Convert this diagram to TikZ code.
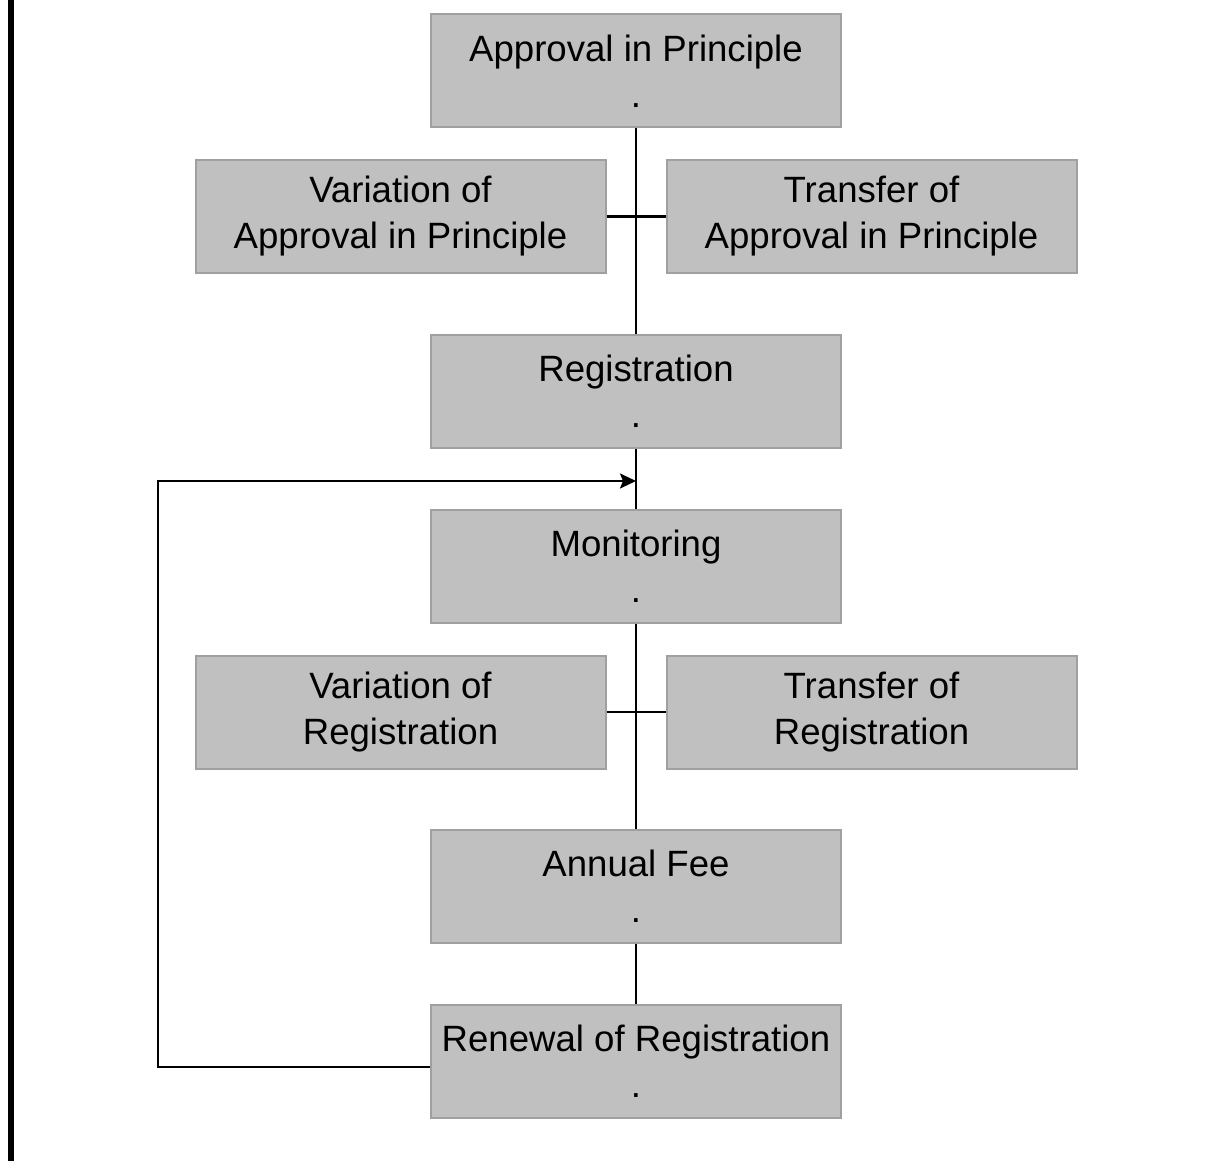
\documentclass[tikz,border=0pt]{standalone}
\usepackage{fontspec}
\setmainfont{Liberation Sans}
\usetikzlibrary{arrows.meta,calc}
\definecolor{boxfill}{HTML}{C0C0C0}
\definecolor{boxline}{HTML}{A0A0A0}
\tikzset{
  procbox/.style={draw=boxline, line width=1pt, fill=boxfill, minimum width=205pt, minimum height=56.5pt,
    inner sep=0pt, align=center, font=\fontsize{18.3}{23}\selectfont, text=black},
  conn/.style={draw=black, line width=1.1pt},
}
\begin{document}
\begin{tikzpicture}[x=0.5pt,y=-0.5pt]
\useasboundingbox (0,0) rectangle (1231,1161);
\fill[black] (8,0) rectangle (14,1161);
\node[procbox] (aip) at (636,71) {Approval in Principle\\.};
\node[procbox] (vaip) at (400.5,216.5) {Variation of\\Approval in Principle};
\node[procbox] (taip) at (871.5,216.5) {Transfer of\\Approval in Principle};
\node[procbox] (reg) at (636,391.5) {Registration\\.};
\node[procbox] (mon) at (636,566.5) {Monitoring\\.};
\node[procbox] (vreg) at (400.5,712) {Variation of\\Registration};
\node[procbox] (treg) at (871.5,712) {Transfer of\\Registration};
\node[procbox] (fee) at (636,886.5) {Annual Fee\\.};
\node[procbox] (ren) at (636,1061.5) {Renewal of Registration\\.};
\coordinate (fb) at ($(reg.south)!0.5!(mon.north)+(0,2)$);
\coordinate (rw) at ($(ren.west)+(0,5.5)$);
\coordinate (lc) at (158,1067);
\draw[conn] (aip.south) -- (reg.north);
\draw[conn] (reg.south) -- (mon.north);
\draw[conn] (mon.south) -- (fee.north);
\draw[conn] (fee.south) -- (ren.north);
\draw[conn] (vaip.east) -- (taip.west);
\draw[conn] (vreg.east) -- (treg.west);
\draw[conn, -{Stealth[length=8pt,width=7.5pt,inset=1.5pt]}] (rw) -- (lc) |- (fb);
\end{tikzpicture}
\end{document}
